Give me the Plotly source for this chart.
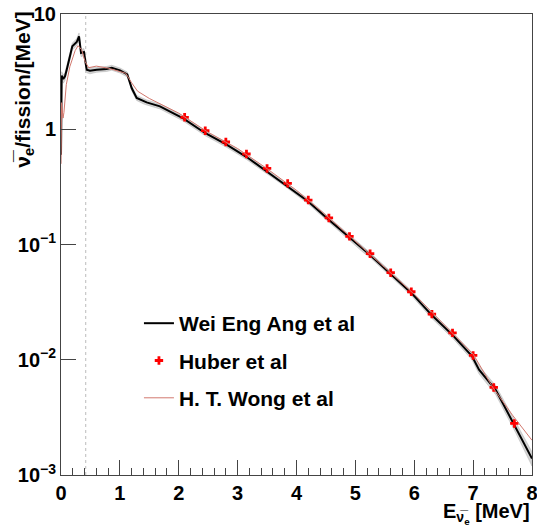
import plotly.graph_objects as go

# --- Wei Eng Ang et al (black curve) ---
ang_E = [0.0, 0.012, 0.039, 0.068, 0.097, 0.153, 0.192, 0.267, 0.306, 0.340, 0.390,
         0.436, 0.492, 0.606, 0.776, 0.861, 1.002, 1.126, 1.171, 1.200, 1.285, 1.397,
         1.455, 1.681, 1.795, 2.076, 2.445, 2.813, 3.153, 3.492, 3.832, 4.199, 4.538,
         4.89, 5.13, 5.25, 5.6, 5.95, 6.30, 6.66, 6.98, 7.10, 7.385, 7.73, 8.0]
ang_val = [0.6, 2.92, 2.73, 2.88, 3.29, 4.29, 5.24, 5.71, 6.40, 4.59, 4.68,
           3.29, 3.22, 3.29, 3.34, 3.42, 3.24, 2.99, 2.60, 2.28, 1.87, 1.75,
           1.71, 1.58, 1.48, 1.24, 0.928, 0.734, 0.574, 0.431, 0.328, 0.2365, 0.166,
           0.116, 0.0901, 0.081, 0.0555, 0.038, 0.0243, 0.0162, 0.01076, 0.0082, 0.00546, 0.00257, 0.00139]
# relative spread of the grey uncertainty band
ang_rel_err = [0.15, 0.08, 0.08, 0.08, 0.08, 0.07, 0.07, 0.07, 0.07, 0.07, 0.07,
               0.06, 0.06, 0.05, 0.05, 0.05, 0.05, 0.05, 0.05, 0.05, 0.05, 0.05,
               0.05, 0.05, 0.05, 0.05, 0.05, 0.05, 0.05, 0.05, 0.05, 0.05, 0.05,
               0.05, 0.05, 0.05, 0.05, 0.05, 0.06, 0.06, 0.07, 0.08, 0.09, 0.11, 0.14]

# --- Huber et al (red crosses) ---
huber_E = [2.10, 2.45, 2.80, 3.15, 3.50, 3.85, 4.20, 4.55, 4.90, 5.25, 5.60,
           5.95, 6.30, 6.65, 7.00, 7.35, 7.70]
huber_val = [1.27, 0.971, 0.775, 0.610, 0.457, 0.339, 0.243, 0.170, 0.1176, 0.0832, 0.0569,
             0.0389, 0.0249, 0.0171, 0.0109, 0.00575, 0.0028]

# --- H. T. Wong et al (thin red line) ---
wong_E = [0.0, 0.01, 0.035, 0.05, 0.09, 0.15, 0.24, 0.29, 0.35, 0.41, 0.47, 0.6, 0.8,
          1.1, 1.2, 1.3, 1.5, 2.0, 2.5, 3.0, 3.5, 4.0, 4.5, 5.0, 5.5, 6.0, 6.5, 7.0,
          7.33, 7.67, 8.0]
wong_val = [0.5, 1.7, 1.25, 1.4, 2.44, 3.49, 4.81, 5.31, 4.90, 3.86, 3.42, 3.53, 3.39,
            3.06, 2.53, 2.14, 1.85, 1.38, 0.94, 0.68, 0.455, 0.295, 0.18, 0.107, 0.063,
            0.037, 0.0205, 0.0112, 0.0058, 0.0033, 0.0020]

threshold_E = 0.42
y_range_decades = [-3, 1]
x_range = [0, 8]
ytick_vals = [0.001, 0.01, 0.1, 1, 10]
ytick_text = ["10<sup>\u22123</sup>", "10<sup>\u22122</sup>", "10<sup>\u22121</sup>", "1", "10"]
ytick_minor = [m * 10.0 ** d for d in range(-3, 1) for m in range(2, 10)]

band_hi = [v * (1 + e) for v, e in zip(ang_val, ang_rel_err)]
band_lo = [v * (1 - e) for v, e in zip(ang_val, ang_rel_err)]

FONT = "Liberation Sans"
AXC = "#444444"
fig = go.Figure()

fig.add_trace(go.Scatter(x=ang_E + ang_E[::-1], y=band_hi + band_lo[::-1],
                         fill="toself", fillcolor="rgba(205,205,205,0.85)",
                         line=dict(color="rgba(175,175,175,0.6)", width=0.8),
                         showlegend=False, hoverinfo="skip"))
fig.add_trace(go.Scatter(x=[threshold_E, threshold_E], y=[10 ** y_range_decades[0], 10 ** y_range_decades[1]],
                         mode="lines", line=dict(color="#bbbbbb", width=1, dash="dot"),
                         showlegend=False, hoverinfo="skip"))
fig.add_trace(go.Scatter(x=ang_E, y=ang_val, mode="lines", name="Wei Eng Ang et al",
                         line=dict(color="black", width=2), legendgroup="a"))
fig.add_trace(go.Scatter(x=huber_E, y=huber_val, mode="markers", name="Huber et al",
                         marker=dict(symbol="cross", color="red", size=7, line=dict(width=0)),
                         legendgroup="b"))
fig.add_trace(go.Scatter(x=wong_E, y=wong_val, mode="lines", name="H. T. Wong et al",
                         line=dict(color="rgb(210,120,110)", width=1), legendgroup="c"))

tickfont = dict(family=FONT, size=20, color="black", weight="bold")
fig.update_layout(
    template="none",
    width=537, height=525,
    margin=dict(l=61, r=5, t=14, b=50, autoexpand=False),
    paper_bgcolor="white", plot_bgcolor="white",
    showlegend=True,
    legend=dict(x=0.1655, y=0.373, xanchor="left", yanchor="top",
                font=dict(family=FONT, size=21, color="black", weight="bold"),
                bgcolor="rgba(0,0,0,0)", borderwidth=0, tracegroupgap=7),
    xaxis=dict(range=x_range, dtick=1, tick0=0, ticks="inside", ticklen=15, tickwidth=1,
               tickcolor=AXC, showline=True, linecolor=AXC, linewidth=1, automargin=False,
               ticklabeloverflow="allow",
               mirror=True, showgrid=False, zeroline=False, tickfont=tickfont,
               minor=dict(dtick=0.2, tick0=0, ticks="inside", ticklen=7, tickcolor=AXC, showgrid=False)),
    yaxis=dict(type="log", range=y_range_decades, tickmode="array", tickvals=ytick_vals,
               ticktext=ytick_text, ticks="inside", ticklen=15, tickwidth=1, tickcolor=AXC,
               showline=True, linecolor=AXC, linewidth=1, mirror=True, automargin=False,
               ticklabeloverflow="allow",
               showgrid=False, zeroline=False, tickfont=tickfont),
    yaxis2=dict(type="log", range=y_range_decades, overlaying="y", side="left",
                tickmode="array", tickvals=ytick_minor, showticklabels=False,
                ticks="inside", ticklen=7, tickwidth=1, tickcolor=AXC, showline=False,
                showgrid=False, zeroline=False, automargin=False),
)

fig.add_annotation(text="\u03bd\u0305<sub>e</sub>/fission/[MeV]", xref="paper", yref="paper",
                   x=-0.078, y=1.01, xanchor="center", yanchor="top", textangle=-90,
                   showarrow=False, font=dict(family=FONT, size=21, color="black", weight="bold"))
fig.add_annotation(text="E<sub>\u03bd\u0305<sub>e</sub></sub> [MeV]", xref="paper", yref="paper",
                   x=1.0, y=-0.05, xanchor="right", yanchor="top",
                   showarrow=False, font=dict(family=FONT, size=20, color="black", weight="bold"))

fig.write_html("out.html", config={"displayModeBar": False},
               post_script="document.body.style.margin='0';document.body.style.overflow='hidden';")
